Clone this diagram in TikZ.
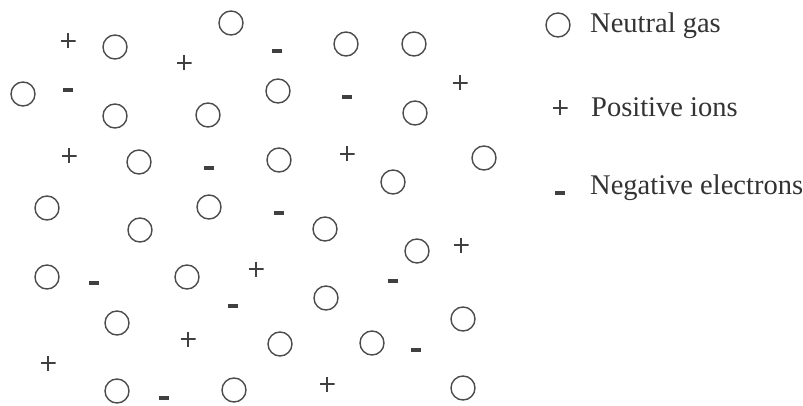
\documentclass[tikz,border=0pt]{standalone}
\usepackage{fontspec}
\setmainfont{Liberation Serif}

\begin{document}
\begin{tikzpicture}[x=1pt, y=-1pt,
  gas/.style={circle, draw=black!70, line width=1.4pt, minimum size=24pt, inner sep=0pt},
  ion/.style={rectangle, minimum size=15pt, inner sep=0pt, path picture={
      \draw[black!75, line width=1.3pt] (path picture bounding box.north) -- (path picture bounding box.south)
        (path picture bounding box.west) -- (path picture bounding box.east);}},
  electron/.style={rectangle, fill=black!75, minimum width=10pt, minimum height=3.5pt, inner sep=0pt},
  keytext/.style={font=\fontsize{28.5}{32}\selectfont, text=black!80, anchor=base west, inner sep=0pt}
]
  \useasboundingbox (0,0) rectangle (803,406);

  % neutral gas
  \foreach \x/\y [count=\i] in {115/47, 231/23, 23/94, 115/116, 208/115, 139/162, 47/208, 209/207,
      346/44, 414/44, 278/91, 415/113, 279/160, 393/182, 484/158, 140/230, 47/277, 187/277,
      117/323, 117/391, 234/390, 325/229, 417/251, 326/298, 463/319, 280/344, 372/343, 463/388}
    \node[gas] (gas\i) at (\x,\y) {};

  % positive ions
  \foreach \x/\y [count=\i] in {68/41, 184/63, 69/156, 460/83, 347/154, 256/269, 188/339,
      48/363, 461/245, 327/384}
    \node[ion] (ion\i) at (\x,\y) {};

  % negative electrons
  \foreach \x/\y [count=\i] in {68/90, 209/168, 277/51, 347/97, 94/283, 233/306, 164/398,
      279/213, 393/281, 416/350}
    \node[electron] (el\i) at (\x,\y) {};

  % key
  \node[gas] (keygas) at (558,25) {};
  \node[keytext] (labgas) at (590,33) {Neutral gas};
  \node[ion] (keyion) at (560,108) {};
  \node[keytext] (labion) at (591,117) {Positive ions};
  \node[electron] (keyel) at (560,193) {};
  \node[keytext] (label) at (590,195) {Negative electrons};
\end{tikzpicture}
\end{document}
